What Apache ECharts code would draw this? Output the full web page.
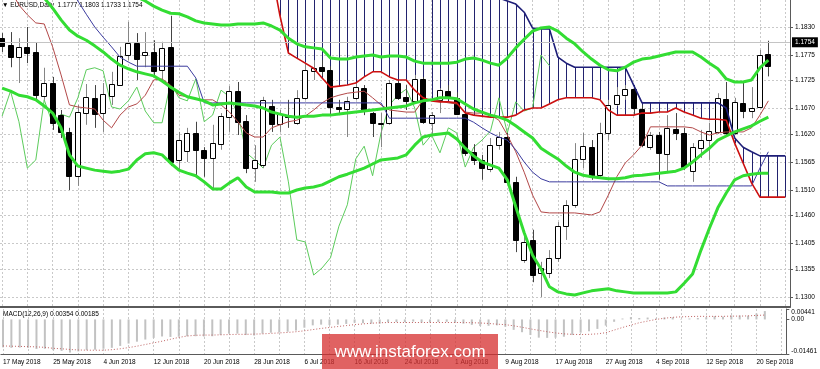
<!DOCTYPE html>
<html><head><meta charset="utf-8">
<script src="https://cdn.jsdelivr.net/npm/echarts@6/dist/echarts.min.js"></script>
<style>html,body{margin:0;padding:0;background:#fff}#c{width:820px;height:369px}</style>
</head><body><div id="c"></div>
<script>
const symbol = 'EURUSD';
const timeframe = 'Daily';

// Daily candles, bar index 0 = 17 May 2018 ... 91 = 21 Sep 2018
const opens = [1.1808,1.1795,1.1771,1.1791,1.1781,1.1695,1.1720,1.1657,1.1624,1.1538,
1.1661,1.1691,1.1661,1.1695,1.1716,1.1775,1.1799,1.1775,1.1781,1.1746,
1.1791,1.1569,1.1587,1.1622,1.1589,1.1573,1.1600,1.1653,1.1704,1.1645,
1.1553,1.1559,1.1675,1.1640,1.1657,1.1642,1.1691,1.1744,1.1752,1.1746,
1.1673,1.1669,1.1691,1.1710,1.1661,1.1640,1.1642,1.1720,1.1693,1.1685,
1.1728,1.1642,1.1687,1.1704,1.1691,1.1659,1.1585,1.1569,1.1551,1.1598,
1.1614,1.1526,1.1373,1.1412,1.1347,1.1347,1.1377,1.1439,1.1481,1.1571,
1.1594,1.1540,1.1622,1.1679,1.1696,1.1708,1.1669,1.1594,1.1618,1.1581,
1.1630,1.1622,1.1547,1.1592,1.1608,1.1624,1.1689,1.1622,1.1681,1.1665,
1.1673,1.1777];
const closes = [1.1793,1.1771,1.1791,1.1779,1.1696,1.1720,1.1642,1.1624,1.1538,1.1663,
1.1693,1.1659,1.1698,1.1718,1.1773,1.1799,1.1767,1.1781,1.1744,1.1789,
1.1565,1.1608,1.1622,1.1589,1.1573,1.1602,1.1655,1.1704,1.1644,1.1553,
1.1569,1.1687,1.1640,1.1659,1.1653,1.1691,1.1746,1.1750,1.1744,1.1673,
1.1669,1.1685,1.1712,1.1665,1.1642,1.1642,1.1720,1.1691,1.1685,1.1728,
1.1644,1.1657,1.1706,1.1693,1.1659,1.1583,1.1569,1.1553,1.1598,1.1614,
1.1526,1.1412,1.1408,1.1343,1.1357,1.1377,1.1439,1.1481,1.1571,1.1596,
1.1538,1.1622,1.1677,1.1696,1.1708,1.1671,1.1598,1.1618,1.1583,1.1632,
1.1622,1.1555,1.1594,1.1608,1.1626,1.1691,1.1622,1.1683,1.1665,1.1671,
1.1775,1.1754];
const lows = [1.1781,1.1751,1.1720,1.1759,1.1683,1.1687,1.1628,1.1612,1.1510,1.1518,
1.1638,1.1632,1.1624,1.1677,1.1716,1.1765,1.1726,1.1751,1.1730,1.1726,
1.1557,1.1549,1.1565,1.1536,1.1536,1.1510,1.1589,1.1624,1.1618,1.1543,
1.1526,1.1553,1.1624,1.1624,1.1632,1.1638,1.1687,1.1726,1.1734,1.1657,
1.1657,1.1614,1.1687,1.1657,1.1614,1.1594,1.1638,1.1687,1.1667,1.1679,
1.1640,1.1618,1.1661,1.1687,1.1657,1.1577,1.1559,1.1530,1.1545,1.1589,
1.1522,1.1388,1.1367,1.1329,1.1300,1.1337,1.1369,1.1412,1.1475,1.1553,
1.1530,1.1534,1.1608,1.1675,1.1687,1.1657,1.1594,1.1589,1.1530,1.1543,
1.1608,1.1549,1.1526,1.1573,1.1569,1.1620,1.1618,1.1618,1.1651,1.1651,
1.1671,1.1733];
const highs = [1.1818,1.1820,1.1808,1.1830,1.1799,1.1750,1.1732,1.1667,1.1632,1.1677,
1.1718,1.1716,1.1720,1.1742,1.1791,1.1840,1.1818,1.1820,1.1804,1.1801,
1.1852,1.1624,1.1632,1.1644,1.1594,1.1638,1.1661,1.1714,1.1722,1.1657,
1.1598,1.1693,1.1687,1.1667,1.1687,1.1706,1.1761,1.1765,1.1765,1.1753,
1.1687,1.1693,1.1720,1.1716,1.1663,1.1661,1.1726,1.1726,1.1716,1.1736,
1.1732,1.1663,1.1710,1.1716,1.1702,1.1663,1.1600,1.1579,1.1612,1.1624,
1.1622,1.1536,1.1428,1.1432,1.1369,1.1392,1.1447,1.1490,1.1602,1.1622,
1.1608,1.1642,1.1687,1.1712,1.1716,1.1714,1.1677,1.1624,1.1624,1.1657,
1.1661,1.1632,1.1602,1.1628,1.1642,1.1700,1.1722,1.1691,1.1720,1.1712,
1.1785,1.1803];

// Bollinger bands (20)
const bbUpper = [1.1990,1.1985,1.1980,1.1975,1.1970,1.1965,1.1960,1.1955,1.1950,1.1945,
1.1940,1.1932,1.1925,1.1917,1.1909,1.1899,1.1889,1.1881,1.1871,1.1863,
1.1857,1.1856,1.1850,1.1842,1.1838,1.1836,1.1834,1.1834,1.1836,1.1836,
1.1836,1.1838,1.1832,1.1824,1.1808,1.1797,1.1791,1.1789,1.1787,1.1769,
1.1767,1.1767,1.1771,1.1773,1.1775,1.1771,1.1773,1.1773,1.1771,1.1763,
1.1759,1.1759,1.1759,1.1759,1.1761,1.1767,1.1769,1.1765,1.1759,1.1755,
1.1769,1.1789,1.1806,1.1822,1.1828,1.1830,1.1822,1.1808,1.1797,1.1781,
1.1767,1.1755,1.1746,1.1744,1.1751,1.1761,1.1767,1.1769,1.1773,1.1777,
1.1781,1.1781,1.1781,1.1771,1.1759,1.1748,1.1728,1.1722,1.1722,1.1726,
1.1750,1.1765];
const bbMiddle = [1.1935,1.1925,1.1915,1.1905,1.1895,1.1887,1.1867,1.1844,1.1824,1.1812,
1.1804,1.1793,1.1781,1.1767,1.1755,1.1748,1.1742,1.1738,1.1734,1.1724,
1.1712,1.1702,1.1693,1.1689,1.1685,1.1677,1.1679,1.1681,1.1679,1.1677,
1.1675,1.1671,1.1663,1.1659,1.1655,1.1653,1.1655,1.1655,1.1657,1.1657,
1.1659,1.1661,1.1663,1.1665,1.1667,1.1669,1.1671,1.1673,1.1675,1.1681,
1.1685,1.1687,1.1691,1.1691,1.1689,1.1679,1.1669,1.1663,1.1657,1.1653,
1.1647,1.1636,1.1624,1.1612,1.1592,1.1581,1.1571,1.1557,1.1545,1.1539,
1.1536,1.1534,1.1532,1.1532,1.1534,1.1538,1.1539,1.1541,1.1543,1.1545,
1.1547,1.1553,1.1565,1.1579,1.1592,1.1608,1.1616,1.1624,1.1630,1.1636,
1.1645,1.1653];
const bbLower = [1.1710,1.1704,1.1696,1.1693,1.1687,1.1675,1.1661,1.1632,1.1579,1.1557,
1.1553,1.1549,1.1547,1.1545,1.1547,1.1551,1.1569,1.1581,1.1583,1.1579,
1.1563,1.1549,1.1543,1.1538,1.1526,1.1512,1.1512,1.1524,1.1534,1.1516,
1.1506,1.1506,1.1506,1.1504,1.1504,1.1510,1.1514,1.1516,1.1520,1.1528,
1.1536,1.1541,1.1547,1.1553,1.1561,1.1569,1.1571,1.1573,1.1579,1.1598,
1.1614,1.1618,1.1620,1.1622,1.1610,1.1592,1.1577,1.1565,1.1559,1.1553,
1.1530,1.1477,1.1426,1.1382,1.1355,1.1320,1.1310,1.1306,1.1304,1.1308,
1.1312,1.1314,1.1316,1.1312,1.1310,1.1308,1.1308,1.1308,1.1308,1.1308,
1.1310,1.1327,1.1345,1.1392,1.1435,1.1475,1.1504,1.1530,1.1538,1.1541,
1.1543,1.1543];

// Ichimoku
const tenkan = [null,1.1903,1.1873,1.1854,1.1838,1.1836,1.1791,1.1736,1.1677,1.1673,
1.1671,1.1669,1.1647,1.1632,1.1657,1.1673,1.1679,1.1696,1.1726,1.1728,
1.1716,1.1696,1.1693,1.1689,1.1687,1.1687,1.1677,1.1663,1.1644,1.1622,
1.1614,1.1614,1.1632,1.1638,1.1644,1.1647,1.1655,1.1667,1.1681,1.1691,
1.1696,1.1700,1.1702,1.1704,1.1691,1.1677,1.1667,1.1665,1.1663,1.1663,
1.1687,1.1687,1.1685,1.1681,1.1679,1.1663,1.1661,1.1661,1.1657,1.1647,
1.1618,1.1585,1.1545,1.1500,1.1467,1.1465,1.1465,1.1465,1.1465,1.1463,
1.1461,1.1467,1.1500,1.1536,1.1563,1.1579,1.1598,1.1634,1.1634,1.1634,
1.1634,1.1634,1.1632,1.1624,1.1618,1.1622,1.1624,1.1624,1.1624,1.1632,
1.1657,1.1685];
const kijun = [null,null,null,null,null,null,null,null,1.1912,1.1881,
1.1855,1.1830,1.1810,1.1791,1.1771,1.1761,1.1753,1.1753,1.1753,1.1753,
1.1753,1.1753,1.1753,1.1730,1.1681,1.1681,1.1681,1.1681,1.1681,1.1681,
1.1681,1.1681,1.1681,1.1681,1.1681,1.1681,1.1681,1.1681,1.1681,1.1681,
1.1681,1.1681,1.1681,1.1681,1.1681,1.1681,1.1651,1.1651,1.1651,1.1651,
1.1651,1.1651,1.1651,1.1651,1.1651,1.1651,1.1643,1.1632,1.1622,1.1614,
1.1608,1.1589,1.1565,1.1545,1.1532,1.1526,1.1526,1.1526,1.1526,1.1526,
1.1526,1.1526,1.1526,1.1526,1.1526,1.1526,1.1526,1.1526,1.1526,1.1518,
1.1518,1.1518,1.1518,1.1518,1.1518,1.1518,1.1518,1.1518,1.1518,1.1518,
1.1553,1.1585];
const chikou = [1.1655,1.1704,1.1644,1.1553,1.1569,1.1687,1.1640,1.1659,1.1653,1.1691,
1.1746,1.1750,1.1744,1.1673,1.1669,1.1685,1.1712,1.1665,1.1642,1.1642,
1.1720,1.1691,1.1685,1.1728,1.1644,1.1657,1.1706,1.1693,1.1659,1.1583,
1.1569,1.1553,1.1598,1.1614,1.1526,1.1412,1.1408,1.1343,1.1357,1.1377,
1.1439,1.1481,1.1571,1.1596,1.1538,1.1622,1.1677,1.1696,1.1708,1.1671,
1.1598,1.1618,1.1583,1.1632,1.1622,1.1555,1.1594,1.1608,1.1626,1.1691,
1.1622,1.1683,1.1665,1.1671,1.1775,1.1754];
const senkouA = [null,null,null,null,null,null,null,null,null,null,
null,null,null,null,null,null,null,null,null,null,
null,null,null,null,null,null,null,null,null,null,
null,null,1.1940,1.1852,1.1779,1.1769,1.1759,1.1749,1.1730,1.1712,
1.1714,1.1716,1.1720,1.1732,1.1742,1.1742,1.1732,1.1726,1.1726,1.1706,
1.1691,1.1685,1.1683,1.1683,1.1681,1.1661,1.1657,1.1655,1.1653,1.1653,
1.1653,1.1657,1.1667,1.1671,1.1671,1.1679,1.1687,1.1691,1.1691,1.1691,
1.1691,1.1687,1.1667,1.1657,1.1657,1.1657,1.1661,1.1661,1.1663,1.1663,
1.1671,1.1663,1.1657,1.1651,1.1649,1.1649,1.1647,1.1602,1.1563,1.1524,
1.1496,1.1496,1.1496,1.1496];
const senkouB = [null,null,null,null,null,null,null,null,null,null,
null,null,null,null,null,null,null,null,null,null,
null,null,null,null,null,null,null,null,null,null,
null,null,1.1935,1.1935,1.1935,1.1935,1.1935,1.1935,1.1935,1.1935,
1.1935,1.1935,1.1935,1.1935,1.1935,1.1935,1.1935,1.1935,1.1935,1.1935,
1.1935,1.1935,1.1935,1.1935,1.1935,1.1930,1.1920,1.1905,1.1895,1.1887,
1.1881,1.1875,1.1859,1.1828,1.1826,1.1826,1.1771,1.1759,1.1751,1.1751,
1.1751,1.1751,1.1751,1.1751,1.1751,1.1716,1.1681,1.1681,1.1681,1.1681,
1.1681,1.1681,1.1681,1.1681,1.1681,1.1681,1.1671,1.1612,1.1594,1.1585,
1.1577,1.1577,1.1577,1.1577];

// MACD(12,26,9)
const macdMain = [-0.0118,-0.0120,-0.0119,-0.0120,-0.0125,-0.0124,-0.0130,-0.0133,-0.0140,-0.0135,
-0.0130,-0.0128,-0.0124,-0.0120,-0.0112,-0.0102,-0.0094,-0.0085,-0.0078,-0.0072,
-0.0074,-0.0073,-0.0071,-0.0071,-0.0072,-0.0071,-0.0066,-0.0060,-0.0060,-0.0066,
-0.0068,-0.0060,-0.0056,-0.0055,-0.0052,-0.0047,-0.0035,-0.0025,-0.0022,-0.0024,
-0.0022,-0.0019,-0.0014,-0.0016,-0.0018,-0.0018,-0.0012,-0.0011,-0.0011,-0.0009,
-0.0013,-0.0013,-0.0011,-0.0010,-0.0012,-0.0018,-0.0023,-0.0028,-0.0027,-0.0025,
-0.0031,-0.0044,-0.0054,-0.0066,-0.0077,-0.0078,-0.0077,-0.0073,-0.0066,-0.0056,
-0.0050,-0.0040,-0.0026,-0.0010,0.0004,0.0010,0.0006,0.0008,0.0004,0.0008,
0.0009,0.0002,0.0004,0.0006,0.0009,0.0014,0.0012,0.0017,0.0017,0.0016,
0.0025,0.00354];
const macdSignal = [-0.0112,-0.0113,-0.0114,-0.0115,-0.0116,-0.0118,-0.0122,-0.0124,-0.0127,-0.0129,
-0.0130,-0.0130,-0.0130,-0.0128,-0.0124,-0.0119,-0.0113,-0.0106,-0.0099,-0.0092,
-0.0084,-0.0076,-0.0070,-0.0067,-0.0066,-0.0066,-0.0065,-0.0064,-0.0063,-0.0063,
-0.0062,-0.0061,-0.0059,-0.0057,-0.0055,-0.0052,-0.0048,-0.0043,-0.0038,-0.0034,
-0.0030,-0.0026,-0.0022,-0.0019,-0.0016,-0.0014,-0.0013,-0.0013,-0.0013,-0.0013,
-0.0013,-0.0013,-0.0013,-0.0013,-0.0013,-0.0013,-0.0014,-0.0015,-0.0017,-0.0020,
-0.0022,-0.0027,-0.0033,-0.0040,-0.0046,-0.0052,-0.0057,-0.0061,-0.0063,-0.0064,
-0.0063,-0.0061,-0.0056,-0.0045,-0.0034,-0.0024,-0.0014,-0.0007,0.0000,0.0005,
0.0009,0.0011,0.0012,0.0013,0.0013,0.0013,0.0013,0.0014,0.0014,0.0015,
0.0017,0.00185];

// Axes
const tickBars = [0,6,12,18,24,30,36,42,48,54,60,66,72,78,84,90];
const tickLabels = ['17 May 2018','25 May 2018','4 Jun 2018','12 Jun 2018','20 Jun 2018','28 Jun 2018',
  '6 Jul 2018','16 Jul 2018','24 Jul 2018','1 Aug 2018','9 Aug 2018','17 Aug 2018','27 Aug 2018',
  '4 Sep 2018','12 Sep 2018','20 Sep 2018'];
const gridBars = [0,3,6,9,12,15,18,21,24,27,30,33,36,39,42,45,48,51,54,57,60,63,66,69,72,75,78,81,84,87,90,93];
const priceTicks = [1.1300,1.1355,1.1405,1.1460,1.1510,1.1565,1.1620,1.1670,1.1725,1.1775,1.1830];
const priceMin = 1.12803, priceMax = 1.18830;
const macdTicks = [0.00441, 0.00, -0.01461];
const macdTickLabels = ['0.00441', '0.00', '-0.01461'];
const barMin = -0.25, barMax = 93.57;

const FONT = 'Liberation Sans, Arial, sans-serif';
const FS = 6.5;
const last = closes.length - 1;

const candleData = opens.map((o, i) => [i, o, closes[i], lows[i], highs[i]]);
const kumoData = senkouA.map((a, i) => (a != null && senkouB[i] != null) ? [i, a, senkouB[i]] : null).filter(Boolean);
const xy = arr => arr.map((v, i) => [i, v == null ? '-' : v]);

function clampY(y, cs) { return Math.max(cs.y, Math.min(cs.y + cs.height, y)); }

function renderKumo(params, api) {
  const cs = params.coordSys;
  const i = api.value(0);
  const p1 = api.coord([i, api.value(1)]);
  const p2 = api.coord([i, api.value(2)]);
  const x = Math.round(p1[0]) + 0.5;
  const y1 = clampY(p1[1], cs), y2 = clampY(p2[1], cs);
  if (Math.abs(y1 - y2) < 0.5) return null;
  return { type: 'line', shape: { x1: x, y1: y1, x2: x, y2: y2 },
    style: { stroke: '#22226e', lineWidth: 1 } };
}

function renderCandle(params, api) {
  const i = api.value(0), o = api.value(1), c = api.value(2), l = api.value(3), h = api.value(4);
  const pO = api.coord([i, o]), pC = api.coord([i, c]), pL = api.coord([i, l]), pH = api.coord([i, h]);
  const cx = Math.round(pO[0]);
  const top = Math.round(Math.min(pO[1], pC[1]));
  const bot = Math.round(Math.max(pO[1], pC[1]));
  const up = c >= o;
  return { type: 'group', children: [
    { type: 'line', shape: { x1: cx + 0.5, y1: pH[1], x2: cx + 0.5, y2: pL[1] },
      style: { stroke: up ? '#858585' : '#444', lineWidth: 1 } },
    { type: 'rect', shape: { x: cx - 3 + 0.5, y: top + 0.5, width: 5, height: Math.max(bot - top, 1) },
      style: { fill: up ? '#fff' : '#000', stroke: '#000', lineWidth: 1 } }
  ]};
}

function lineSeries(name, arr, color, width, z, extra) {
  return Object.assign({ type: 'line', name: name, xAxisIndex: 0, yAxisIndex: 0, data: xy(arr),
    symbol: 'none', showSymbol: false, silent: true, z: z, clip: true,
    lineStyle: { color: color, width: width } }, extra || {});
}

const gridLine = { show: true, lineStyle: { color: '#c9c9c9', type: [2, 2], width: 1 } };
const axisColor = '#5a5a5a';

const chart = echarts.init(document.getElementById('c'), null, { renderer: 'canvas' });
chart.setOption({
  animation: false,
  backgroundColor: '#ffffff',
  grid: [
    { left: 0, top: 0, width: 790, height: 307 },
    { left: 0, top: 309, width: 790, height: 45 }
  ],
  xAxis: [
    { type: 'value', gridIndex: 0, min: barMin, max: barMax,
      axisLine: { show: true, onZero: false, lineStyle: { color: axisColor, width: 2 } },
      axisTick: { show: false, customValues: gridBars },
      axisLabel: { show: false },
      splitLine: gridLine },
    { type: 'value', gridIndex: 1, min: barMin, max: barMax,
      axisLine: { show: true, onZero: false, lineStyle: { color: axisColor, width: 1 } },
      axisTick: { show: false, customValues: gridBars },
      axisLabel: { show: true, customValues: tickBars, align: 'left', margin: 5,
        showMinLabel: true, showMaxLabel: true,
        fontSize: FS, fontFamily: FONT, color: '#000',
        formatter: v => { const k = tickBars.indexOf(Math.round(v)); return k >= 0 ? tickLabels[k] : ''; } },
      splitLine: gridLine }
  ],
  yAxis: [
    { type: 'value', gridIndex: 0, position: 'right', min: priceMin, max: priceMax,
      axisLine: { show: true, onZero: false, lineStyle: { color: axisColor } },
      axisTick: { show: true, customValues: priceTicks, length: 3, lineStyle: { color: axisColor } },
      axisLabel: { customValues: priceTicks, margin: 5, fontSize: FS, fontFamily: FONT, color: '#000',
        formatter: v => v.toFixed(4) },
      splitLine: gridLine },
    { type: 'value', gridIndex: 1, position: 'right', min: macdTicks[2], max: macdTicks[0],
      axisLine: { show: true, onZero: false, lineStyle: { color: axisColor } },
      axisTick: { show: true, customValues: macdTicks, length: 3, lineStyle: { color: axisColor } },
      axisLabel: { customValues: macdTicks, margin: 5, showMinLabel: true, showMaxLabel: true,
        hideOverlap: false,
        fontSize: FS, fontFamily: FONT, color: '#000',
        formatter: v => {
          let k = 0, best = 1;
          macdTicks.forEach((t, j) => { if (Math.abs(t - v) < best) { best = Math.abs(t - v); k = j; } });
          if (k === 0) return '{t|' + macdTickLabels[k] + '}';
          if (k === 2) return '{b|' + macdTickLabels[k] + '}';
          return macdTickLabels[k];
        },
        rich: {
          t: { padding: [7, 0, 0, 0], fontSize: FS, fontFamily: FONT, color: '#000' },
          b: { padding: [0, 0, 5, 0], fontSize: FS, fontFamily: FONT, color: '#000' }
        } },
      splitLine: { show: false } }
  ],
  series: [
    { type: 'custom', name: 'Kumo', xAxisIndex: 0, yAxisIndex: 0, data: kumoData,
      renderItem: renderKumo, encode: { x: 0, y: [1, 2] }, z: 1, silent: true },
    lineSeries('Chikou', chikou, '#5ccc5c', 1, 2, {
      markLine: { silent: true, symbol: 'none', animation: false,
        data: [{ yAxis: closes[last] }],
        lineStyle: { color: '#c4c4c4', type: 'solid', width: 1 },
        label: { show: true, position: 'end', distance: 2, formatter: closes[last].toFixed(4),
          backgroundColor: '#000', color: '#fff', padding: [2, 3, 1, 3], fontSize: FS, fontFamily: FONT } } }),
    { type: 'custom', name: 'Candles', xAxisIndex: 0, yAxisIndex: 0, data: candleData,
      renderItem: renderCandle, encode: { x: 0, y: [1, 2, 3, 4] }, z: 3, silent: true },
    lineSeries('Tenkan', tenkan, '#b24848', 1, 4),
    lineSeries('Kijun', kijun, '#3a3a9e', 1, 4),
    lineSeries('SenkouA', senkouA, '#cc1010', 1.6, 4),
    lineSeries('SenkouB', senkouB, '#1e1e78', 1.6, 4),
    lineSeries('BB Upper', bbUpper, '#33dd33', 3, 5),
    lineSeries('BB Middle', bbMiddle, '#33dd33', 3, 5),
    lineSeries('BB Lower', bbLower, '#33dd33', 3, 5),
    { type: 'bar', name: 'MACD', xAxisIndex: 1, yAxisIndex: 1, data: xy(macdMain), barWidth: 2,
      itemStyle: { color: '#c2c2c2' }, silent: true, z: 2 },
    { type: 'line', name: 'Signal', xAxisIndex: 1, yAxisIndex: 1, data: xy(macdSignal),
      symbol: 'none', showSymbol: false, silent: true, z: 3,
      lineStyle: { color: '#c06464', width: 1, type: [1, 2] } }
  ],
  graphic: [
    { type: 'text', x: 2, y: 2, z: 0, silent: true,
      style: { text: '\u25BC ' + symbol + ',' + timeframe + '  ' +
        [opens[last], highs[last], lows[last], closes[last]].map(v => v.toFixed(4)).join(' '),
        fontSize: FS, fontFamily: FONT, fill: '#000' } },
    { type: 'text', x: 3, y: 311, z: 10, silent: true,
      style: { text: 'MACD(12,26,9) ' + macdMain[last].toFixed(5) + ' ' + macdSignal[last].toFixed(5),
        fontSize: FS, fontFamily: FONT, fill: '#000' } },
    { type: 'rect', x: 322, y: 334, z: 100, silent: true,
      shape: { width: 176, height: 35 }, style: { fill: 'rgba(214,48,48,0.76)' } },
    { type: 'text', x: 410, y: 352, z: 101, silent: true,
      style: { text: 'www.instaforex.com', fontSize: 17, fontFamily: FONT, fill: '#fff',
        align: 'center', verticalAlign: 'middle' } }
  ]
});
</script>
</body></html>
